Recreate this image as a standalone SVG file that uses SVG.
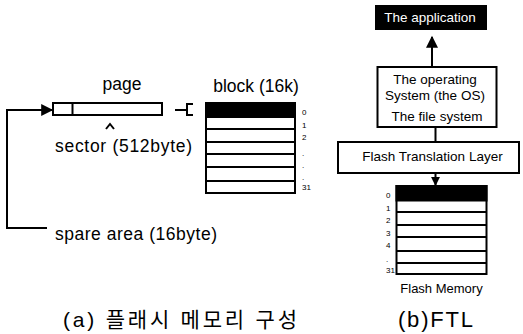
<svg xmlns="http://www.w3.org/2000/svg" width="523" height="334" viewBox="0 0 523 334">
<style>
text{font-family:"Liberation Sans",Arial,sans-serif;fill:#000}
.box{fill:#fff;stroke:#000;stroke-width:2}
.blk{fill:#000;stroke:#000;stroke-width:2}
.ln{fill:none;stroke:#000;stroke-width:2}
.lbl{font-size:17.5px}
.mid{font-size:13.5px}
.sm{font-size:8px}
.cap{font-size:21px}
</style>
<defs>
<marker id="ah" viewBox="0 0 10 10" refX="9" refY="5" markerWidth="13" markerHeight="12" markerUnits="userSpaceOnUse" orient="auto"><path d="M0,0 L10,5 L0,10 Z" fill="#000"/></marker>
<marker id="ahs" viewBox="0 0 10 10" refX="9" refY="5" markerWidth="9" markerHeight="10" markerUnits="userSpaceOnUse" orient="auto"><path d="M0,0 L10,5 L0,10 Z" fill="#000"/></marker>
</defs>
<rect width="523" height="334" fill="#fff"/>

<g id="page">
<rect class="box" x="53" y="103" width="109" height="12"/>
<line class="ln" x1="72.5" y1="103" x2="72.5" y2="115"/>
<text class="lbl" x="122" y="90" text-anchor="middle">page</text>
</g>

<g id="sector">
<polyline class="ln" points="106,129 110,124 114,129"/>
<text class="lbl" x="55" y="152" textLength="137">sector (512byte)</text>
</g>

<g id="spare">
<text class="lbl" x="55" y="240" textLength="162">spare area (16byte)</text>
</g>

<g id="block">
<text class="lbl" x="256" y="92" text-anchor="middle">block (16k)</text>
<rect class="box" x="206" y="103" width="89" height="90"/>
<rect class="blk" x="206" y="103" width="89" height="14"/>
<line class="ln" x1="206" y1="129" x2="295" y2="129"/>
<line class="ln" x1="206" y1="142" x2="295" y2="142"/>
<line class="ln" x1="206" y1="154" x2="295" y2="154"/>
<line class="ln" x1="206" y1="167" x2="295" y2="167"/>
<line class="ln" x1="206" y1="181" x2="295" y2="181"/>
<text class="sm" x="302" y="115">0</text>
<text class="sm" x="302" y="128">1</text>
<text class="sm" x="302" y="140">2</text>
<text class="sm" x="302" y="156">.</text>
<text class="sm" x="302" y="168">.</text>
<text class="sm" x="302" y="180">.</text>
<text class="sm" x="302" y="190">31</text>
</g>

<g id="application">
<rect class="blk" x="376" y="6" width="110" height="23"/>
<text class="mid" x="430" y="22" text-anchor="middle" style="fill:#fff">The application</text>
</g>

<g id="os">
<rect class="box" x="377.5" y="67" width="119" height="60"/>
<text class="mid" x="435" y="84" text-anchor="middle">The operating</text>
<text class="mid" x="435" y="100" text-anchor="middle">System (the OS)</text>
<text class="mid" x="437" y="121" text-anchor="middle">The file system</text>
</g>

<g id="ftl">
<rect class="box" x="338" y="142" width="181" height="31"/>
<text class="mid" x="432.5" y="161" text-anchor="middle">Flash Translation Layer</text>
</g>

<g id="flash">
<rect class="box" x="396.5" y="186" width="90" height="88"/>
<rect class="blk" x="396.5" y="186" width="90" height="14.5"/>
<line class="ln" x1="396.5" y1="212" x2="486.5" y2="212"/>
<line class="ln" x1="396.5" y1="225" x2="486.5" y2="225"/>
<line class="ln" x1="396.5" y1="237" x2="486.5" y2="237"/>
<line class="ln" x1="396.5" y1="251" x2="486.5" y2="251"/>
<line class="ln" x1="396.5" y1="263" x2="486.5" y2="263"/>
<text class="sm" x="386" y="198">0</text>
<text class="sm" x="386" y="211">1</text>
<text class="sm" x="386" y="223">2</text>
<text class="sm" x="386" y="236">3</text>
<text class="sm" x="386" y="248">4</text>
<text class="sm" x="386" y="262">.</text>
<text class="sm" x="386" y="273">31</text>
<text x="441.5" y="293" text-anchor="middle" style="font-size:13px">Flash Memory</text>
</g>

<g id="connectors">
<polyline class="ln" points="47,228 7,228 7,110 52,110" marker-end="url(#ah)"/>
<line class="ln" x1="175" y1="110" x2="186" y2="110"/>
<polyline class="ln" points="193,104 187,104 187,115 193,115"/>
<line class="ln" x1="432" y1="67" x2="432" y2="37" marker-end="url(#ah)"/>
<line class="ln" x1="435.5" y1="127" x2="435.5" y2="142"/>
<line class="ln" x1="435.5" y1="173" x2="435.5" y2="185" marker-end="url(#ahs)"/>
</g>

<g id="captions">
<text class="cap" x="63" y="327" textLength="234" style="font-family:'Liberation Sans','Noto Sans CJK KR',sans-serif">(a) 플래시 메모리 구성</text>
<text class="cap" x="398" y="327" textLength="75" style="font-size:22px">(b)FTL</text>
</g>
</svg>
